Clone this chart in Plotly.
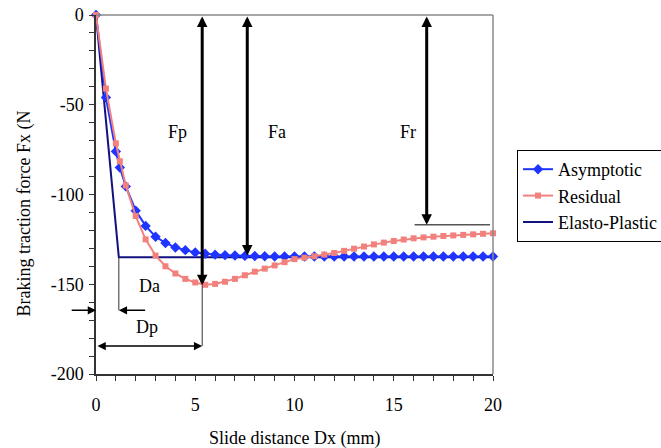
import plotly.graph_objects as go

# ---- data ----
x_asym = [0, 0.5, 1.0, 1.2, 1.5, 2.0, 2.5, 3.0, 3.5, 4.0, 4.5, 5.0, 5.5, 6.0, 6.5, 7.0,
          7.5, 8.0, 8.5, 9.0, 9.5, 10.0, 10.5, 11.0, 11.5, 12.0, 12.5, 13.0, 13.5, 14.0,
          14.5, 15.0, 15.5, 16.0, 16.5, 17.0, 17.5, 18.0, 18.5, 19.0, 19.5, 20.0]
y_asym = [0, -46, -76, -85, -95.5, -109, -117.5, -123.5, -127, -129.5, -131, -132.3,
          -133, -133.5, -133.8, -134, -134.2, -134.3, -134.4, -134.5, -134.5, -134.5,
          -134.5, -134.5, -134.5, -134.5, -134.5, -134.5, -134.5, -134.5, -134.5, -134.5,
          -134.5, -134.5, -134.5, -134.5, -134.5, -134.5, -134.5, -134.5, -134.5, -134.5]
x_resid = x_asym
y_resid = [0, -41, -71.5, -81.5, -95, -112, -125, -134, -140, -144, -147, -149, -150.3,
           -149.8, -148.6, -147, -145, -143, -141.3, -139.5, -137.7, -136, -135.2, -134.4,
           -133.5, -132.6, -131.4, -130.2, -129, -127.8, -126.8, -125.9, -125.1, -124.4,
           -123.9, -123.5, -123.1, -122.8, -122.5, -122.2, -121.9, -121.6]
x_ep = [0, 1.15, 20]
y_ep = [0, -135, -135]

x_ticks = [0, 5, 10, 15, 20]
y_ticks = [0, -50, -100, -150, -200]

# reference markers (force / distance annotations)
fp_x, fp_y = 5.35, -150.5
fa_x, fa_y = 7.62, -134.0
fr_x, fr_y = 16.66, -116.8
fr_bar = (16.05, 19.85)
da_y, da_x = -164.5, 1.15
dp_y = -184.4

FONT = "Liberation Serif"
BLUE = "#1f35ff"
SALMON = "#f2807c"
NAVY = "#12127f"

fig = go.Figure()
fig.add_trace(go.Scatter(x=x_ep, y=y_ep, mode="lines", name="Elasto-Plastic",
                         line=dict(color=NAVY, width=2), legendrank=3, cliponaxis=False))
fig.add_trace(go.Scatter(x=x_asym, y=y_asym, mode="lines+markers", name="Asymptotic",
                         line=dict(color=BLUE, width=2),
                         marker=dict(symbol="diamond", size=8, color=BLUE),
                         legendrank=1, cliponaxis=False))
fig.add_trace(go.Scatter(x=x_resid, y=y_resid, mode="lines+markers", name="Residual",
                         line=dict(color=SALMON, width=2),
                         marker=dict(symbol="square", size=6, color=SALMON),
                         legendrank=2, cliponaxis=False))

ann = []
def arrow(x, y, ax, ay, w, side="end", size=1.0):
    ann.append(dict(x=x, y=y, ax=ax, ay=ay, xref="x", yref="y", axref="x", ayref="y",
                    text="", showarrow=True, arrowhead=2, startarrowhead=2, arrowside=side,
                    arrowwidth=w, arrowsize=size, startarrowsize=size, arrowcolor="black",
                    standoff=0, startstandoff=0))

arrow(fp_x, fp_y, fp_x, 0, 3, "end+start", 0.7)
arrow(fa_x, fa_y, fa_x, 0, 3, "end+start", 0.7)
arrow(fr_x, fr_y, fr_x, 0, 3, "end+start", 0.7)
arrow(0, da_y, -1.3, da_y, 1.5, "end", 1.1)
arrow(da_x, da_y, 2.55, da_y, 1.5, "end", 1.1)
arrow(fp_x, dp_y, 0, dp_y, 1.5, "end+start", 1.1)

def label(x, y, t):
    ann.append(dict(x=x, y=y, xref="x", yref="y", text=t, showarrow=False,
                    font=dict(family=FONT, size=18, color="black")))

label(4.1, -65, "Fp")
label(9.1, -65, "Fa")
label(15.7, -65, "Fr")
label(2.7, -151, "Da")
label(2.55, -174, "Dp")

ann.append(dict(x=-0.179, y=0.447, xref="paper", yref="paper", xanchor="center", yanchor="middle",
                text="Braking traction force Fx (N", textangle=-90, showarrow=False,
                font=dict(family=FONT, size=18, color="black")))
ann.append(dict(x=0.5, y=-0.181, xref="paper", yref="paper", xanchor="center", yanchor="middle",
                text="Slide distance Dx (mm)", showarrow=False,
                font=dict(family=FONT, size=18, color="black")))

shapes = [
    dict(type="line", xref="paper", yref="paper", x0=0, x1=1, y0=1, y1=1,
         line=dict(color="#8a8a8a", width=1.5)),
    dict(type="line", xref="paper", yref="paper", x0=1, x1=1, y0=0, y1=1,
         line=dict(color="#8a8a8a", width=1.5)),
    dict(type="line", xref="x", yref="y", x0=fr_bar[0], x1=fr_bar[1], y0=fr_y, y1=fr_y,
         line=dict(color="#555555", width=1.5)),
    dict(type="line", xref="x", yref="y", x0=da_x, x1=da_x, y0=-135, y1=da_y,
         line=dict(color="#333333", width=1)),
    dict(type="line", xref="x", yref="y", x0=fp_x, x1=fp_x, y0=fp_y, y1=dp_y,
         line=dict(color="#333333", width=1)),
]

axis_common = dict(showgrid=False, zeroline=False, showline=True, linecolor="#333333",
                   linewidth=1.5, ticks="outside", ticklen=5, tickwidth=1, tickcolor="#333333",
                   tickfont=dict(family=FONT, size=18, color="black"))

fig.update_layout(
    width=661, height=448,
    margin=dict(l=96, r=168, t=15, b=74, autoexpand=False),
    paper_bgcolor="white", plot_bgcolor="white",
    font=dict(family=FONT, size=18, color="black"),
    xaxis=dict(range=[0, 20], tickvals=x_ticks, ticktext=[str(v) for v in x_ticks],
               minor=dict(dtick=1, ticks="outside", ticklen=5, tickcolor="#333333"),
               ticklabelstandoff=9, **axis_common),
    yaxis=dict(range=[-200, 0], tickvals=y_ticks, ticktext=[str(v) for v in y_ticks],
               minor=dict(dtick=10, ticks="outside", ticklen=5, tickcolor="#333333"),
               ticklabelstandoff=2, **axis_common),
    showlegend=True,
    legend=dict(x=1.0605, y=0.624, xanchor="left", yanchor="top",
                bgcolor="white", bordercolor="black", borderwidth=1,
                font=dict(family=FONT, size=18, color="black")),
    annotations=ann, shapes=shapes,
)

fig.write_html("out.html", config={"displayModeBar": False},
               post_script="document.body.style.margin='0';document.body.style.padding='0';")
